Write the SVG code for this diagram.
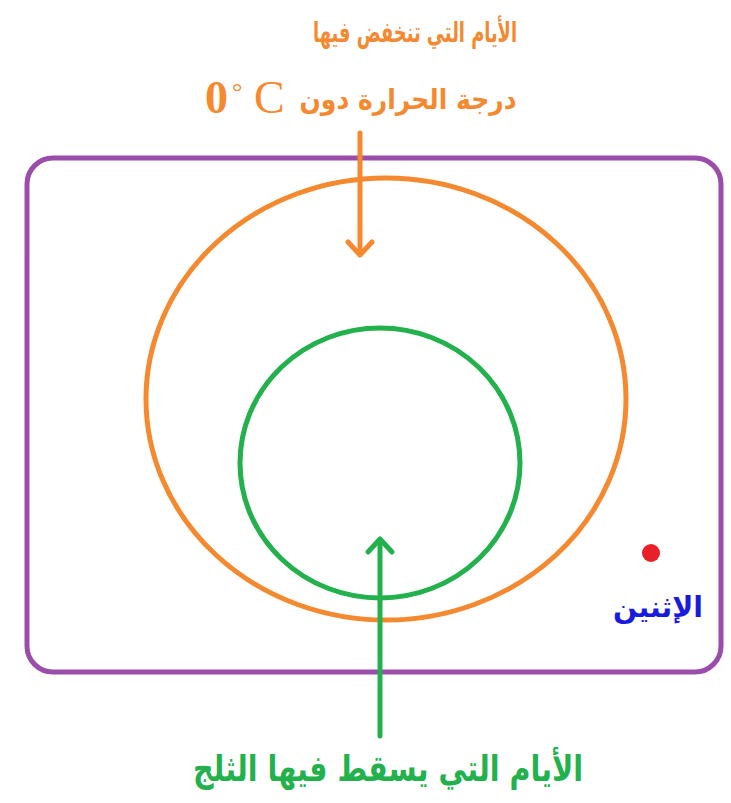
<svg xmlns="http://www.w3.org/2000/svg" width="731" height="803" viewBox="0 0 731 803">
<style>
.ar{font-family:"DejaVu Sans","Noto Sans",sans-serif;font-weight:bold;}
.or{fill:#f5892f;}
.ln{fill:none;stroke-width:5;stroke-linecap:round;stroke-linejoin:round;}
</style>
<rect width="731" height="803" fill="#ffffff"/>
<g id="universe"><rect x="27" y="158" width="694" height="514" rx="26" ry="26" class="ln" stroke="#9b4dab"/></g>
<g id="cold-days"><ellipse cx="386" cy="399" rx="240" ry="221" class="ln" stroke="#f5892f"/></g>
<g id="snow-days"><ellipse cx="380" cy="463" rx="140" ry="135" class="ln" stroke="#22b14c"/></g>
<g id="monday">
<circle cx="651" cy="553" r="9" fill="#e8202a"/>
<text x="658" y="617" class="ar" font-size="29" fill="#1a1adf" text-anchor="middle" textLength="90" lengthAdjust="spacingAndGlyphs">الإثنين</text>
</g>
<g id="connectors">
<path d="M360 133 V254" class="ln" stroke="#f5892f" stroke-width="4"/>
<path d="M348 242 L360 255 L372 242" class="ln" stroke="#f5892f" stroke-width="4"/>
<path d="M380 736 V540" class="ln" stroke="#22b14c" stroke-width="4"/>
<path d="M368 552 L380 539 L392 552" class="ln" stroke="#22b14c" stroke-width="4"/>
</g>
<g id="label-cold">
<text x="415" y="42" class="ar or" font-size="28" text-anchor="middle" textLength="204" lengthAdjust="spacingAndGlyphs">الأيام التي تنخفض فيها</text>
<text x="408" y="109" class="ar or" font-size="28" text-anchor="middle" textLength="217" lengthAdjust="spacingAndGlyphs">درجة الحرارة دون</text>
<text x="205" y="113" font-family="Liberation Serif,serif" font-size="46" font-weight="bold" class="or">0</text>
<text x="232" y="100" font-family="Liberation Serif,serif" font-size="26" class="or">°</text>
<text x="254" y="113" font-family="Liberation Serif,serif" font-size="46" class="or">C</text>
</g>
<g id="label-snow">
<text x="388" y="781" class="ar" font-size="36" fill="#22b14c" text-anchor="middle" textLength="390" lengthAdjust="spacingAndGlyphs">الأيام التي يسقط فيها الثلج</text>
</g>
</svg>
